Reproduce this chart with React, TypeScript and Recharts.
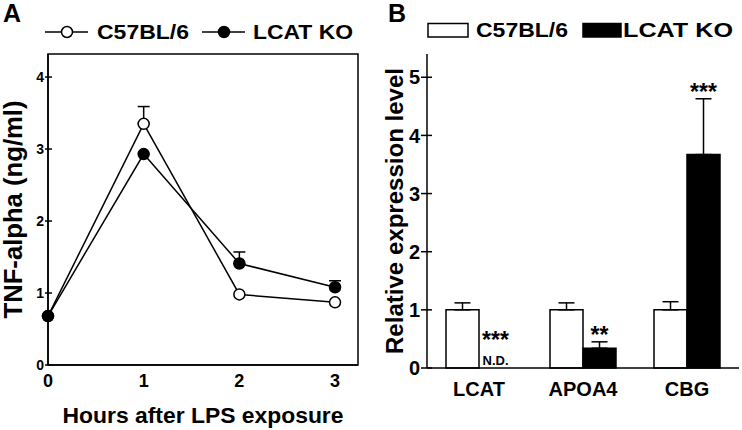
import React from 'react';
import {
  LineChart,
  Line,
  XAxis,
  YAxis,
  ErrorBar,
  Legend,
  ComposedChart,
  Bar,
  LabelList,
  ReferenceArea,
} from 'recharts';

// ---------- Panel A data ----------
const hours = [0, 1, 2, 3];
const c57Tnf = [0.68, 3.35, 0.98, 0.87];
const c57TnfErr = [null, 0.24, null, null];
const koTnf = [0.68, 2.93, 1.41, 1.08];
const koTnfErr = [null, null, 0.16, 0.09];
const hourTicks = [0, 1, 2, 3];
const tnfTicks = [0, 1, 2, 3, 4];

// ---------- Panel B data ----------
const genes = ['LCAT', 'APOA4', 'CBG'];
const c57Expr = [1.0, 1.0, 1.0];
const c57ExprErr = [0.12, 0.12, 0.14];
const koExpr = [0, 0.34, 3.67];
const koExprErr = [0, 0.11, 0.96];
const koSignif = ['***', '**', '***'];
const koDetected = [false, true, true];
const exprTicks = [0, 1, 2, 3, 4, 5];

const seriesNames = ['C57BL/6', 'LCAT KO'];
const panelLetters = ['A', 'B'];

const FONT = '"Liberation Sans", Arial, Helvetica, sans-serif';
const BAR_SIZE = 33;

const dataA = hours.map((h, i) => ({
  hour: h,
  c57: c57Tnf[i],
  c57Err: c57TnfErr[i] == null ? null : [0, c57TnfErr[i]],
  ko: koTnf[i],
  koErr: koTnfErr[i] == null ? null : [0, koTnfErr[i]],
}));

const dataB = genes.map((g, i) => ({
  gene: g,
  c57: c57Expr[i],
  c57Err: [0, c57ExprErr[i]],
  ko: koExpr[i],
  koErr: koExprErr[i] ? [0, koExprErr[i]] : null,
  anchor: koExpr[i] + koExprErr[i],
  sig: koSignif[i],
  nd: !koDetected[i],
}));

const axisLine = { stroke: '#000', strokeWidth: 1.5 };

const YTick = (p: any) => {
  const { x, y, payload, fs, out, inn, gap } = p;
  return (
    <g>
      <line x1={x - out} x2={x + inn} y1={y} y2={y} stroke="#000" strokeWidth={1.5} />
      <text
        x={x - gap}
        y={y}
        dy="0.36em"
        textAnchor="end"
        fontSize={fs}
        fontWeight="bold"
        fontFamily={FONT}
        fill="#000"
      >
        {payload.value}
      </text>
    </g>
  );
};

const XTick = (p: any) => {
  const { x, y, payload, fs, base } = p;
  return (
    <text
      x={x}
      y={y + base}
      textAnchor="middle"
      fontSize={fs}
      fontWeight="bold"
      fontFamily={FONT}
      fill="#000"
    >
      {payload.value}
    </text>
  );
};

const YTitle = (p: any, text: string, bx: number, fs: number, len: number) => {
  const vb = p.viewBox || { x: 0, y: 0, width: 0, height: 0 };
  const cx = vb.x + bx;
  const cy = vb.y + vb.height / 2;
  return (
    <text
      x={cx}
      y={cy}
      transform={`rotate(-90, ${cx}, ${cy})`}
      textAnchor="middle"
      fontSize={fs}
      fontWeight="bold"
      fontFamily={FONT}
      fill="#000"
      textLength={len}
      lengthAdjust="spacingAndGlyphs"
    >
      {text}
    </text>
  );
};

const XTitle = (p: any) => {
  const vb = p.viewBox || { x: 0, y: 0, width: 0, height: 0 };
  return (
    <text
      x={vb.x + vb.width / 2}
      y={vb.y + 58}
      textAnchor="middle"
      fontSize={22}
      fontWeight="bold"
      fontFamily={FONT}
      fill="#000"
      textLength={281}
      lengthAdjust="spacingAndGlyphs"
    >
      Hours after LPS exposure
    </text>
  );
};

const LegendA = (props: any) => {
  const payload = props.payload || [];
  const lineStarts = [45, 202];
  const textStarts = [97, 253];
  const textLens = [92, 100];
  return (
    <svg width={370} height={50} style={{ overflow: 'visible', display: 'block' }}>
      <text x={3} y={22} fontSize={25} fontWeight="bold" fontFamily={FONT} fill="#000">
        {panelLetters[0]}
      </text>
      {payload.map((item: any, i: number) => (
        <g key={i}>
          <line x1={lineStarts[i]} x2={lineStarts[i] + 43} y1={32} y2={32} stroke="#000" strokeWidth={1.5} />
          <circle
            cx={lineStarts[i] + 22}
            cy={32}
            r={5.5}
            fill={i === 0 ? '#fff' : '#000'}
            stroke="#000"
            strokeWidth={1.5}
          />
          <text
            x={textStarts[i]}
            y={39}
            fontSize={21}
            fontWeight="bold"
            fontFamily={FONT}
            fill="#000"
            textLength={textLens[i]}
            lengthAdjust="spacingAndGlyphs"
          >
            {item.value}
          </text>
        </g>
      ))}
    </svg>
  );
};

const LegendB = (props: any) => {
  const payload = (props.payload || []).filter((p: any) => p.type !== 'none');
  const rectStarts = [58, 213];
  const rectWidths = [40, 38];
  const textStarts = [106, 253];
  const textLens = [92, 110];
  return (
    <svg width={372} height={50} style={{ overflow: 'visible', display: 'block' }}>
      <text x={18} y={22} fontSize={25} fontWeight="bold" fontFamily={FONT} fill="#000">
        {panelLetters[1]}
      </text>
      {payload.map((item: any, i: number) => (
        <g key={i}>
          <rect
            x={rectStarts[i]}
            y={23.5}
            width={rectWidths[i]}
            height={13.5}
            fill={i === 0 ? '#fff' : '#000'}
            stroke="#000"
            strokeWidth={1.5}
          />
          <text
            x={textStarts[i]}
            y={37}
            fontSize={21}
            fontWeight="bold"
            fontFamily={FONT}
            fill="#000"
            textLength={textLens[i]}
            lengthAdjust="spacingAndGlyphs"
          >
            {item.value}
          </text>
        </g>
      ))}
    </svg>
  );
};

const SigLabel = (p: any) => {
  const { x, y, value, index } = p;
  if (x == null || y == null) return null;
  const entry = dataB[index] || { sig: value, nd: false };
  const cx = x + BAR_SIZE / 2;
  const nd = entry.nd;
  const starBase = nd ? y - 20 : y + 1;
  return (
    <g>
      {nd && (
        <text x={cx} y={y - 3} textAnchor="middle" fontSize={13} fontWeight="bold" fontFamily={FONT} fill="#000">
          N.D.
        </text>
      )}
      <text
        x={cx}
        y={starBase}
        textAnchor="middle"
        fontSize={23}
        fontWeight="bold"
        fontFamily={FONT}
        fill="#000"
      >
        {entry.sig}
      </text>
    </g>
  );
};

const ChartA = () => (
  <LineChart width={370} height={430} data={dataA} margin={{ top: 54, right: 12, bottom: 0, left: 0 }}>
    <XAxis
      xAxisId="b"
      dataKey="hour"
      type="number"
      domain={[0, 3.24]}
      ticks={hourTicks}
      interval={0}
      height={65}
      tickLine={false}
      tickSize={0}
      tickMargin={0}
      axisLine={axisLine}
      tick={(p: any) => <XTick {...p} fs={18} base={22} />}
      label={{ content: (p: any) => <XTitle {...p} /> }}
    />
    <YAxis
      yAxisId="l"
      type="number"
      domain={[0, 4.32]}
      ticks={tnfTicks}
      interval={0}
      width={48}
      tickLine={false}
      tickSize={0}
      tickMargin={0}
      axisLine={axisLine}
      tick={(p: any) => <YTick {...p} fs={14} out={3} inn={4} gap={4} />}
      label={{ content: (p: any) => YTitle(p, 'TNF-alpha (ng/ml)', 22, 25, 218) }}
    />
    <ReferenceArea
      xAxisId="b"
      yAxisId="l"
      x1={0}
      x2={3.24}
      y1={0}
      y2={4.32}
      fill="none"
      fillOpacity={0}
      stroke="#000"
      strokeWidth={1.5}
      strokeOpacity={1}
      ifOverflow="visible"
    />
    <Legend verticalAlign="top" content={(p: any) => <LegendA {...p} />} wrapperStyle={{ top: 0, left: 0, width: 370, height: 0 }} />
    <Line
      xAxisId="b"
      yAxisId="l"
      name={seriesNames[0]}
      dataKey="c57"
      stroke="#000"
      strokeWidth={1.5}
      dot={{ r: 5.5, fill: '#fff', stroke: '#000', strokeWidth: 1.5 }}
      isAnimationActive={false}
    >
      <ErrorBar dataKey="c57Err" width={6} stroke="#000" strokeWidth={1.5} direction="y" />
    </Line>
    <Line
      xAxisId="b"
      yAxisId="l"
      name={seriesNames[1]}
      dataKey="ko"
      stroke="#000"
      strokeWidth={1.5}
      dot={{ r: 5.5, fill: '#000', stroke: '#000', strokeWidth: 1.5 }}
      isAnimationActive={false}
    >
      <ErrorBar dataKey="koErr" width={6} stroke="#000" strokeWidth={1.5} direction="y" />
    </Line>
  </LineChart>
);

const ChartB = () => (
  <ComposedChart
    width={372}
    height={430}
    data={dataB}
    margin={{ top: 54, right: 3, bottom: 0, left: 0 }}
    barGap={0}
    barSize={BAR_SIZE}
  >
    <XAxis
      xAxisId="b"
      dataKey="gene"
      interval={0}
      height={62}
      tickLine={false}
      tickSize={0}
      tickMargin={0}
      axisLine={axisLine}
      tick={(p: any) => <XTick {...p} fs={20} base={28} />}
    />
    <XAxis xAxisId="t" orientation="top" dataKey="gene" height={0} tick={false} tickLine={false} axisLine={axisLine} />
    <YAxis
      yAxisId="l"
      type="number"
      domain={[0, 5.4]}
      ticks={exprTicks}
      interval={0}
      width={57}
      tickLine={false}
      tickSize={0}
      tickMargin={0}
      axisLine={axisLine}
      tick={(p: any) => <YTick {...p} fs={20} out={6} inn={5} gap={7} />}
      label={{ content: (p: any) => YTitle(p, 'Relative expression level', 33, 23, 286) }}
    />
    <YAxis
      yAxisId="r"
      orientation="right"
      type="number"
      domain={[0, 5.4]}
      width={0}
      tick={false}
      tickLine={false}
      axisLine={axisLine}
    />
    <Legend verticalAlign="top" content={(p: any) => <LegendB {...p} />} wrapperStyle={{ top: 0, left: 0, width: 372, height: 0 }} />
    <Bar
      xAxisId="b"
      yAxisId="l"
      name={seriesNames[0]}
      dataKey="c57"
      fill="#fff"
      stroke="#000"
      strokeWidth={1.5}
      isAnimationActive={false}
    >
      <ErrorBar dataKey="c57Err" width={8} stroke="#000" strokeWidth={1.5} direction="y" />
    </Bar>
    <Bar
      xAxisId="b"
      yAxisId="l"
      name={seriesNames[1]}
      dataKey="ko"
      fill="#000"
      stroke="#000"
      strokeWidth={1.5}
      isAnimationActive={false}
    >
      <ErrorBar dataKey="koErr" width={8} stroke="#000" strokeWidth={1.5} direction="y" />
    </Bar>
    <Line
      xAxisId="b"
      yAxisId="l"
      dataKey="anchor"
      stroke="none"
      dot={false}
      activeDot={false}
      legendType="none"
      isAnimationActive={false}
    >
      <LabelList dataKey="sig" content={(p: any) => <SigLabel {...p} />} />
    </Line>
  </ComposedChart>
);

export default function App() {
  return (
    <div
      style={{
        position: 'fixed',
        left: 0,
        top: 0,
        width: 742,
        height: 430,
        background: '#fff',
        overflow: 'hidden',
      }}
    >
      <div style={{ position: 'absolute', left: 0, top: 0 }}>
        <ChartA />
      </div>
      <div style={{ position: 'absolute', left: 370, top: 0 }}>
        <ChartB />
      </div>
    </div>
  );
}
